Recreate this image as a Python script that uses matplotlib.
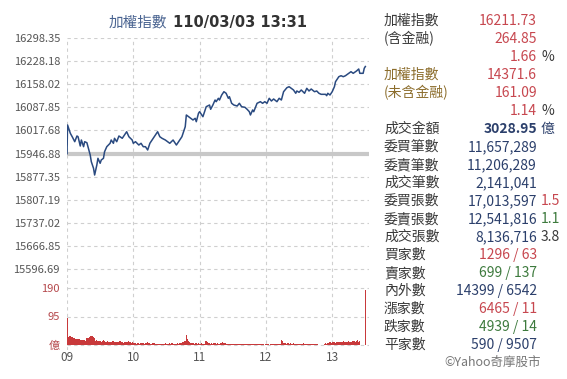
import numpy as np
import matplotlib
matplotlib.use("Agg")
import matplotlib.pyplot as plt

plt.rcParams['font.family'] = ['Noto Sans CJK TC', 'DejaVu Sans']

# ---------------- data ----------------
prev_close = 15946.88
price_ticks = [16298.35, 16228.18, 16158.02, 16087.85, 16017.68, 15946.88,
               15877.35, 15807.19, 15737.02, 15666.85, 15596.69]
vol_ticks = [0, 95, 190]
vol_tick_labels = ['億', '95', '190']
hour_ticks = [0, 60, 120, 180, 240]
hour_labels = ['09', '10', '11', '12', '13']

# minutes after 09:00
price_minutes = [0, 0.5, 3, 5, 7, 9, 10, 12, 13, 15, 16, 18, 21, 22, 24, 25, 27, 28, 30, 31,
                 33, 34, 36, 39, 40, 42, 43, 45, 47, 50, 52, 54, 56, 59, 60, 62, 65, 67, 69, 71,
                 73, 75, 78, 80, 82, 84, 86, 89, 91, 93, 96, 99, 104, 105, 107, 108, 110, 112, 114, 116,
                 117, 119, 120, 123, 125, 126, 129, 130, 132, 134, 135, 137, 138, 140, 142, 144, 146, 147, 149, 151,
                 154, 156, 158, 161, 163, 165, 166, 168, 169, 172, 175, 177, 179, 181, 183, 185, 187, 190, 192, 194,
                 196, 199, 201, 203, 205, 207, 208, 210, 212, 215, 217, 219, 221, 224, 226, 228, 230, 234, 235, 236,
                 238, 240, 242, 243, 246, 248, 250, 252, 255, 257, 259, 262, 264, 265, 268, 269, 270]
price_values = [15946.88, 16034.1, 16008.9, 15996.7, 15983.4, 16000.7, 15998.5, 15970.3, 15988.5, 15968.2,
                15983.4, 15980.3, 15943.0, 15922.6, 15902.6, 15882.2, 15912.6, 15932.9, 15917.8, 15927.8,
                15932.9, 15953.0, 15968.2, 15978.5, 15988.5, 15978.5, 15993.7, 15983.4, 16000.7, 15993.7,
                16003.7, 16013.7, 15998.5, 15988.5, 15978.5, 15983.4, 15973.3, 15978.5, 15968.2, 15968.2,
                15958.2, 15978.5, 15993.7, 16003.7, 16013.7, 15998.5, 15993.7, 15988.5, 15983.4, 15978.5,
                15988.5, 15973.3, 15998.5, 16008.9, 16028.9, 16064.5, 16059.3, 16054.4, 16049.3, 16054.4,
                16044.1, 16069.6, 16074.5, 16059.3, 16079.7, 16089.7, 16094.8, 16081.8, 16094.8, 16110.0,
                16104.9, 16115.2, 16110.0, 16125.2, 16135.2, 16130.4, 16115.2, 16120.0, 16100.0, 16094.8,
                16091.8, 16100.0, 16089.7, 16087.9, 16081.8, 16074.5, 16064.5, 16079.7, 16074.5, 16100.0,
                16104.9, 16100.0, 16104.9, 16100.0, 16115.2, 16107.0, 16113.1, 16104.9, 16115.2, 16110.0,
                16135.2, 16147.4, 16150.4, 16145.6, 16140.4, 16130.4, 16137.4, 16133.4, 16140.4, 16130.4,
                16145.6, 16137.4, 16143.4, 16135.2, 16137.4, 16130.4, 16127.3, 16127.3, 16123.1, 16130.4,
                16125.2, 16135.2, 16150.4, 16165.6, 16180.8, 16183.8, 16180.8, 16183.8, 16191.1, 16196.0,
                16191.1, 16198.1, 16204.2, 16191.1, 16191.1, 16206.3, 16211.73]

# volume per minute (億), 09:00 .. 13:30
volume = [90, 28, 30, 29, 27, 28, 25, 24, 20, 21,
          19, 20, 18, 17, 18, 16, 17, 15, 22, 23,
          27, 30, 31, 29, 26, 24, 15, 16, 14, 15,
          13, 11, 12, 17, 14, 11, 10, 12, 11, 9,
          10, 14, 12, 11, 10, 9, 11, 10, 12, 9,
          10, 8, 10, 9, 11, 10, 12, 9, 8, 9,
          7, 6, 7, 5, 6, 7, 5, 6, 8, 6,
          5, 6, 8, 10, 7, 6, 5, 8, 7, 6,
          5, 4, 5, 4, 5, 3, 4, 5, 4, 6,
          5, 4, 5, 6, 4, 7, 5, 4, 5, 4,
          6, 5, 7, 6, 8, 10, 12, 15, 35, 20,
          14, 10, 8, 7, 6, 5, 7, 6, 5, 6,
          5, 5, 6, 4, 5, 12, 14, 9, 7, 6,
          5, 6, 5, 7, 6, 5, 6, 4, 5, 6,
          8, 10, 8, 6, 5, 4, 5, 4, 3, 4,
          3, 3, 4, 3, 2, 3, 4, 3, 2, 3,
          4, 3, 4, 5, 3, 2, 3, 4, 5, 3,
          2, 3, 4, 3, 2, 3, 4, 3, 2, 1,
          2, 3, 2, 1, 2, 3, 4, 3, 2, 3,
          2, 3, 2, 3, 16, 12, 8, 7, 6, 5,
          6, 5, 6, 4, 5, 6, 5, 4, 3, 5,
          4, 5, 4, 3, 6, 5, 4, 3, 4, 5,
          3, 4, 3, 5, 4, 3, 2, 3, 1, 1,
          0, 1, 0, 2, 6, 5, 7, 8, 9, 8,
          10, 9, 10, 8, 9, 10, 9, 11, 10, 9,
          12, 10, 11, 9, 10, 14, 11, 10, 12, 15,
          13, 10, 12, 16, 11, 12, 0, 0, 0, 0,
          183]

title_name = '加權指數'
title_time = '110/03/03 13:31'

panel_rows = [
    # label, value, extra, label color, value color, extra color, bold value
    ('加權指數', '16211.73', '', '#3a3a3a', '#c7474f', '#3a3a3a', False),
    ('(含金融)', '264.85', '', '#3a3a3a', '#c7474f', '#3a3a3a', False),
    ('', '1.66', '%', '#3a3a3a', '#c7474f', '#3a3a3a', False),
    ('加權指數', '14371.6', '', '#8c6d2c', '#c7474f', '#3a3a3a', False),
    ('(未含金融)', '161.09', '', '#8c6d2c', '#c7474f', '#3a3a3a', False),
    ('', '1.14', '%', '#3a3a3a', '#c7474f', '#3a3a3a', False),
    ('成交金額', '3028.95', '億', '#3a3a3a', '#2b3f6b', '#2b3f6b', True),
    ('委買筆數', '11,657,289', '', '#3a3a3a', '#2b3f6b', '#3a3a3a', False),
    ('委賣筆數', '11,206,289', '', '#3a3a3a', '#2b3f6b', '#3a3a3a', False),
    ('成交筆數', '2,141,041', '', '#3a3a3a', '#2b3f6b', '#3a3a3a', False),
    ('委買張數', '17,013,597', '1.5', '#3a3a3a', '#2b3f6b', '#c7474f', False),
    ('委賣張數', '12,541,816', '1.1', '#3a3a3a', '#2b3f6b', '#3d7a3d', False),
    ('成交張數', '8,136,716', '3.8', '#3a3a3a', '#2b3f6b', '#3a3a3a', False),
    ('買家數', '1296 / 63', '', '#3a3a3a', '#c7474f', '#3a3a3a', False),
    ('賣家數', '699 / 137', '', '#3a3a3a', '#3d7a3d', '#3a3a3a', False),
    ('內外數', '14399 / 6542', '', '#3a3a3a', '#2b3f6b', '#3a3a3a', False),
    ('漲家數', '6465 / 11', '', '#3a3a3a', '#c7474f', '#3a3a3a', False),
    ('跌家數', '4939 / 14', '', '#3a3a3a', '#3d7a3d', '#3a3a3a', False),
    ('平家數', '590 / 9507', '', '#3a3a3a', '#2b3f6b', '#3a3a3a', False),
]
credit = '©Yahoo奇摩股市'

# ---------------- figure ----------------
W, H = 567, 379
fig = plt.figure(figsize=(W / 100, H / 100), dpi=100)

def fx(px):
    return px / W

def fy(py):
    return 1 - py / H

x_left, x_right = 67, 369
min_per_px = 1 / 1.105
xmax = (x_right - x_left) * min_per_px

# price axes
p_top, p_bot = 38, 278
p_per_px = (price_ticks[0] - price_ticks[-1]) / (269 - 38)
axp = fig.add_axes([fx(x_left), fy(p_bot), fx(x_right - x_left), (p_bot - p_top) / H])
axp.set_xlim(0, xmax)
axp.set_ylim(price_ticks[0] - (p_bot - p_top) * p_per_px, price_ticks[0])

# volume axes
v_top, v_bot = 278, 350
v_zero = 345
v_per_px = 190 / (v_zero - 288)
axv = fig.add_axes([fx(x_left), fy(v_bot), fx(x_right - x_left), (v_bot - v_top) / H])
axv.set_xlim(0, xmax)
axv.set_ylim(-(v_bot - v_zero) * v_per_px, (v_zero - v_top) * v_per_px)

grid_kw = dict(color='#cfcfcf', linestyle=(0, (3, 3)), linewidth=0.8)
for ax in (axp, axv):
    for s in ax.spines.values():
        s.set_visible(False)
    ax.set_xticks(hour_ticks)
    ax.grid(True, **grid_kw)
    ax.set_axisbelow(True)
    ax.tick_params(length=0)

axp.set_yticks(price_ticks)
axp.set_yticklabels([f'{v:.2f}' for v in price_ticks])
axp.tick_params(axis='y', labelsize=8, labelcolor='#555555', pad=5)
axp.tick_params(axis='x', labelbottom=False)

axv.set_yticks(vol_ticks)
axv.set_yticklabels(vol_tick_labels)
axv.tick_params(axis='y', labelsize=8, labelcolor='#b5484c', pad=5)
axv.set_xticklabels(hour_labels)
axv.tick_params(axis='x', labelsize=8.5, labelcolor='#555555', pad=1)

axp.axhline(prev_close, color='#c8c8c8', linewidth=3, zorder=2)
axp.plot(price_minutes, price_values, color='#2a4a80', linewidth=1.1, zorder=3)

axv.bar(np.arange(len(volume)), volume, width=1.0, color='#c8393b',
        linewidth=0, align='center', zorder=3)

# title
fig.text(fx(167), fy(22), title_name, ha='right', va='center', fontsize=10.5, color='#4a6491')
fig.text(fx(173), fy(22), title_time, ha='left', va='center', fontsize=10.5,
         color='#333333', fontweight='bold', family=['DejaVu Sans'])

# right panel
row_y0, row_dy = 21, 18.0
for i, (lab, val, extra, lc, vc, ec, bold) in enumerate(panel_rows):
    y = fy(row_y0 + i * row_dy)
    if lab:
        fig.text(fx(384), y, lab, ha='left', va='center', fontsize=10, color=lc)
    fig.text(fx(537), y, val, ha='right', va='center', fontsize=10, color=vc,
             fontweight='bold' if bold else 'normal')
    if extra:
        fig.text(fx(541), y, extra, ha='left', va='center', fontsize=10, color=ec)

fig.text(fx(541), fy(362), credit, ha='right', va='center', fontsize=9, color='#777777')

fig.savefig('out.png', dpi=100)
